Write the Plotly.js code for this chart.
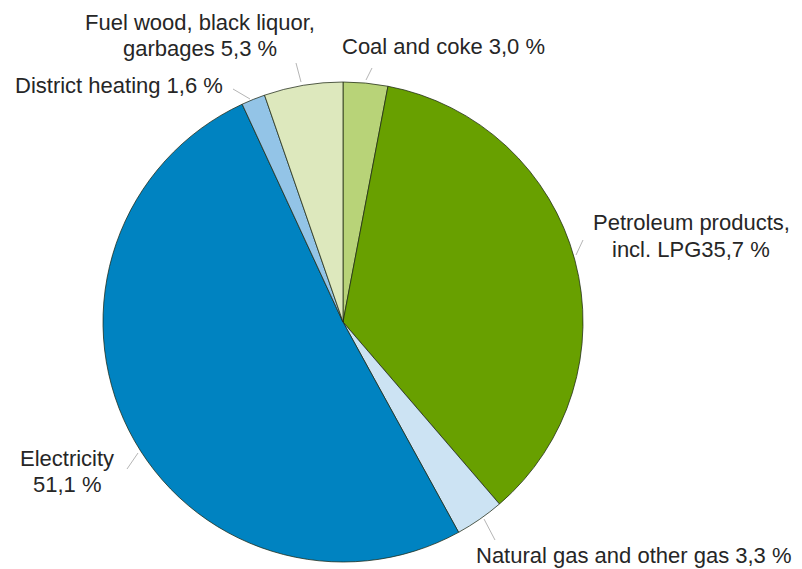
<!DOCTYPE html>
<html>
<head>
<meta charset="utf-8">
<script src="https://cdn.plot.ly/plotly-3.0.1.min.js"></script>
<style>html,body{margin:0;padding:0;background:#fff;}#chart{width:802px;height:569px;}</style>
</head>
<body>
<div id="chart"></div>
<script>
// Data
var categories = ["Coal and coke", "Petroleum products, incl. LPG", "Natural gas and other gas", "Electricity", "District heating", "Fuel wood, black liquor, garbages"];
var shares = [3.0, 35.7, 3.3, 51.1, 1.6, 5.3];
var labelTexts = ["Coal and coke 3,0 %", "Petroleum products,<br>incl. LPG35,7 %", "Natural gas and other gas 3,3 %", "Electricity<br>51,1 %", "District heating 1,6 %", "Fuel wood, black liquor,<br>garbages 5,3 %"];

// Styling
var colors = ["#b8d378", "#68a000", "#cce3f3", "#0083c1", "#93c4e7", "#dde8bd"];
// label centres (pixels) and leader lines (pixels: start on pie edge -> end)
var labelPos = [[443, 47], [691, 236], [634, 555], [67, 471], [119, 86], [200, 35]];
var leaders = [[[366, 80], [372, 68]], [[576, 255], [583, 240]], [[484, 519], [495, 540]],
               [[138, 453], [127, 469]], [[250, 99], [233, 89]], [[301, 82], [296, 63]]];
var lineGap = 26;
var fontSize = 22;

var L = 103, T = 82, S = 480;
function px(x) { return (x - L) / S; }
function py(y) { return (T + S - y) / S; }

var annotations = [];
labelTexts.forEach(function (t, i) {
  var lines = t.split("<br>");
  lines.forEach(function (ln, k) {
    var yc = labelPos[i][1] + (k - (lines.length - 1) / 2) * lineGap;
    annotations.push({
      text: ln, xref: "paper", yref: "paper",
      x: px(labelPos[i][0]), y: py(yc),
      xanchor: "center", yanchor: "middle", align: "center",
      showarrow: false,
      font: {family: "Liberation Sans, Arial, sans-serif", size: fontSize, color: "#262626"}
    });
  });
});
var shapes = leaders.map(function (l) {
  return {
    type: "line", xref: "paper", yref: "paper",
    x0: px(l[0][0]), y0: py(l[0][1]), x1: px(l[1][0]), y1: py(l[1][1]),
    line: {color: "#b5b5b5", width: 1}
  };
});

var data = [{
  type: "pie",
  labels: categories,
  values: shares,
  sort: false,
  direction: "clockwise",
  rotation: 0,
  textinfo: "none",
  hoverinfo: "label+percent",
  marker: {colors: colors, line: {color: "rgba(30,40,20,0.75)", width: 1}},
  domain: {x: [0, 1], y: [0, 1]}
}];

var layout = {
  width: 802, height: 569,
  margin: {l: L, r: 802 - L - S, t: T, b: 569 - T - S},
  showlegend: false,
  paper_bgcolor: "#fff",
  annotations: annotations,
  shapes: shapes
};

Plotly.newPlot("chart", data, layout, {displayModeBar: false, staticPlot: true});
</script>
</body>
</html>
